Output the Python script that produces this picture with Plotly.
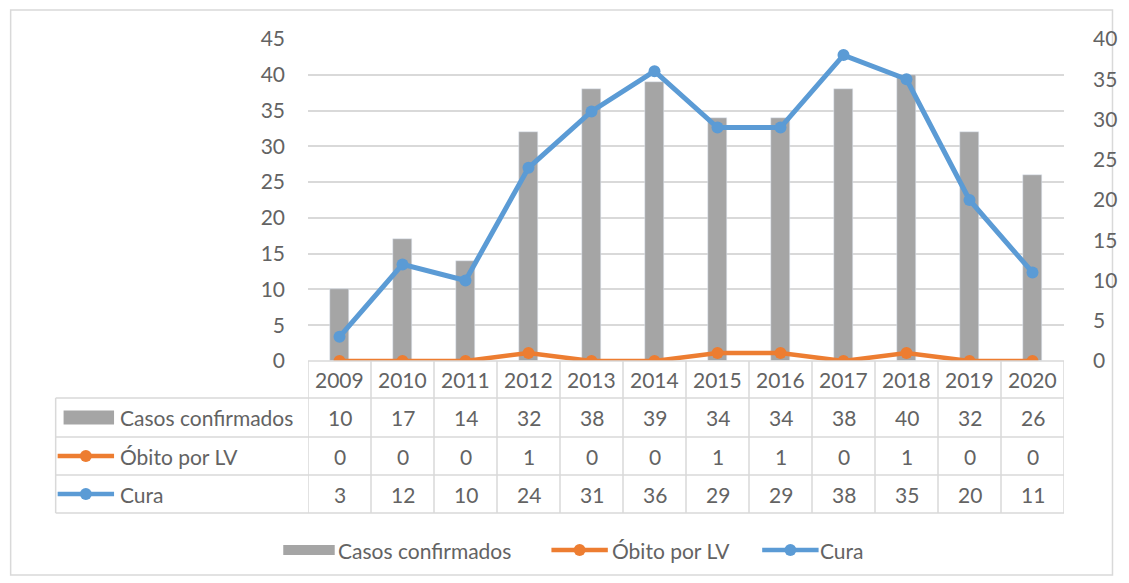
import plotly.graph_objects as go

years = ["2009", "2010", "2011", "2012", "2013", "2014", "2015", "2016", "2017", "2018", "2019", "2020"]
casos = [10, 17, 14, 32, 38, 39, 34, 34, 38, 40, 32, 26]
obito = [0, 0, 0, 1, 0, 0, 1, 1, 0, 1, 0, 0]
cura = [3, 12, 10, 24, 31, 36, 29, 29, 38, 35, 20, 11]
series_names = ["Casos confirmados", "Óbito por LV", "Cura"]
left_ticks = [0, 5, 10, 15, 20, 25, 30, 35, 40, 45]
right_ticks = [0, 5, 10, 15, 20, 25, 30, 35, 40]

GRAY = "#A5A5A5"
ORANGE = "#ED7D31"
BLUE = "#5B9BD5"
TXT = "#636363"
GRID = "#D9D9D9"
FONT = "Lato"
FS = 21

W, H = 1129, 583
L, R, T, B = 308, 57, 39, 222
PW = W - L - R
PH = H - T - B


def px(x):
    return (x - L) / PW


def py(y):
    return (H - B - y) / PH


n = len(years)
xs = list(range(n))

fig = go.Figure()
fig.add_trace(go.Bar(x=xs, y=casos, name=series_names[0], marker_color=GRAY,
                     width=0.29, yaxis="y", showlegend=False))
fig.add_trace(go.Scatter(x=xs, y=obito, name=series_names[1], mode="lines+markers",
                         line=dict(color=ORANGE, width=4.5), marker=dict(size=12, color=ORANGE),
                         yaxis="y2", showlegend=False))
fig.add_trace(go.Scatter(x=xs, y=cura, name=series_names[2], mode="lines+markers",
                         line=dict(color=BLUE, width=5), marker=dict(size=12, color=BLUE),
                         yaxis="y2", showlegend=False))

shapes = []
annotations = []

# outer border
shapes.append(dict(type="rect", xref="paper", yref="paper", x0=px(7.5), x1=px(1121), y0=py(10), y1=py(575),
                   line=dict(color=GRID, width=1.5), fillcolor="rgba(0,0,0,0)", layer="below"))

# data table lines
row_lines = [398, 437, 475, 513]
tbl_right = L + PW
shapes.append(dict(type="line", xref="paper", yref="paper", x0=px(L), x1=px(tbl_right), y0=py(361), y1=py(361),
                   line=dict(color=GRID, width=1.5)))
for yl in row_lines:
    shapes.append(dict(type="line", xref="paper", yref="paper", x0=px(53), x1=px(tbl_right), y0=py(yl), y1=py(yl),
                       line=dict(color=GRID, width=1.5)))
shapes.append(dict(type="line", xref="paper", yref="paper", x0=px(53), x1=px(53), y0=py(398), y1=py(513),
                   line=dict(color=GRID, width=1.5)))
for i in range(n + 1):
    shapes.append(dict(type="line", xref="x", yref="paper", x0=i - 0.5, x1=i - 0.5, y0=py(361), y1=py(513),
                       line=dict(color=GRID, width=1.5)))

row_centers = [379.5, 417.5, 456, 494]
rows = [years, casos, obito, cura]
for r, vals in enumerate(rows):
    for i, v in enumerate(vals):
        annotations.append(dict(x=i, y=py(row_centers[r]), xref="x", yref="paper", text=str(v),
                                showarrow=False, font=dict(family=FONT, size=FS, color=TXT),
                                xanchor="center", yanchor="middle"))


def key(x0, yc, kind, color, h=12):
    if kind == "bar":
        shapes.append(dict(type="rect", xref="paper", yref="paper", x0=px(x0), x1=px(x0 + 51),
                           y0=py(yc + h / 2), y1=py(yc - h / 2), fillcolor=color, line=dict(width=0)))
    else:
        shapes.append(dict(type="line", xref="paper", yref="paper", x0=px(x0), x1=px(x0 + 57),
                           y0=py(yc), y1=py(yc), line=dict(color=color, width=4.5)))
        shapes.append(dict(type="circle", xref="paper", yref="paper", x0=px(x0 + 22.5), x1=px(x0 + 34.5),
                           y0=py(yc + 6), y1=py(yc - 6), fillcolor=color, line=dict(width=0)))


kinds = ["bar", "line", "line"]
colors = [GRAY, ORANGE, BLUE]
for k in range(3):
    yc = row_centers[k + 1]
    key(61 if k == 0 else 55, yc, kinds[k], colors[k], h=14)
    annotations.append(dict(x=px(116), y=py(yc), xref="paper", yref="paper", text=series_names[k],
                            showarrow=False, font=dict(family=FONT, size=FS, color=TXT),
                            xanchor="left", yanchor="middle"))

# bottom legend
leg_y = 550
leg_x = [283, 554, 767]
leg_tx = [336, 613, 823]
for k in range(3):
    if kinds[k] == "bar":
        shapes.append(dict(type="rect", xref="paper", yref="paper", x0=px(leg_x[k]), x1=px(leg_x[k] + 52),
                           y0=py(leg_y + 5), y1=py(leg_y - 5), fillcolor=colors[k], line=dict(width=0)))
    else:
        key(leg_x[k], leg_y, kinds[k], colors[k])
    annotations.append(dict(x=px(leg_tx[k]), y=py(leg_y), xref="paper", yref="paper", text=series_names[k],
                            showarrow=False, font=dict(family=FONT, size=FS, color=TXT),
                            xanchor="left", yanchor="middle"))

fig.update_layout(
    width=W, height=H,
    margin=dict(l=L, r=R, t=T, b=B, pad=0),
    paper_bgcolor="white", plot_bgcolor="white",
    font=dict(family=FONT, size=FS, color=TXT),
    bargap=0,
    xaxis=dict(range=[-0.5, n - 0.5], showticklabels=False, showgrid=False, zeroline=False,
               showline=False, ticks="", fixedrange=True),
    yaxis=dict(range=[0, 45], tickvals=left_ticks, showgrid=True, gridcolor=GRID, gridwidth=1.5,
               zeroline=False, showline=False, ticks="", ticklabelstandoff=22,
               tickfont=dict(family=FONT, size=FS, color=TXT)),
    yaxis2=dict(range=[0, 40], tickvals=right_ticks, overlaying="y", side="right", showgrid=False,
                zeroline=False, showline=False, ticks="", ticklabelstandoff=28,
                tickfont=dict(family=FONT, size=FS, color=TXT)),
    shapes=shapes,
    annotations=annotations,
)

fig.write_html("out.html", config={"displayModeBar": False},
               post_script="document.body.style.margin='0px';document.body.style.overflow='hidden';")
